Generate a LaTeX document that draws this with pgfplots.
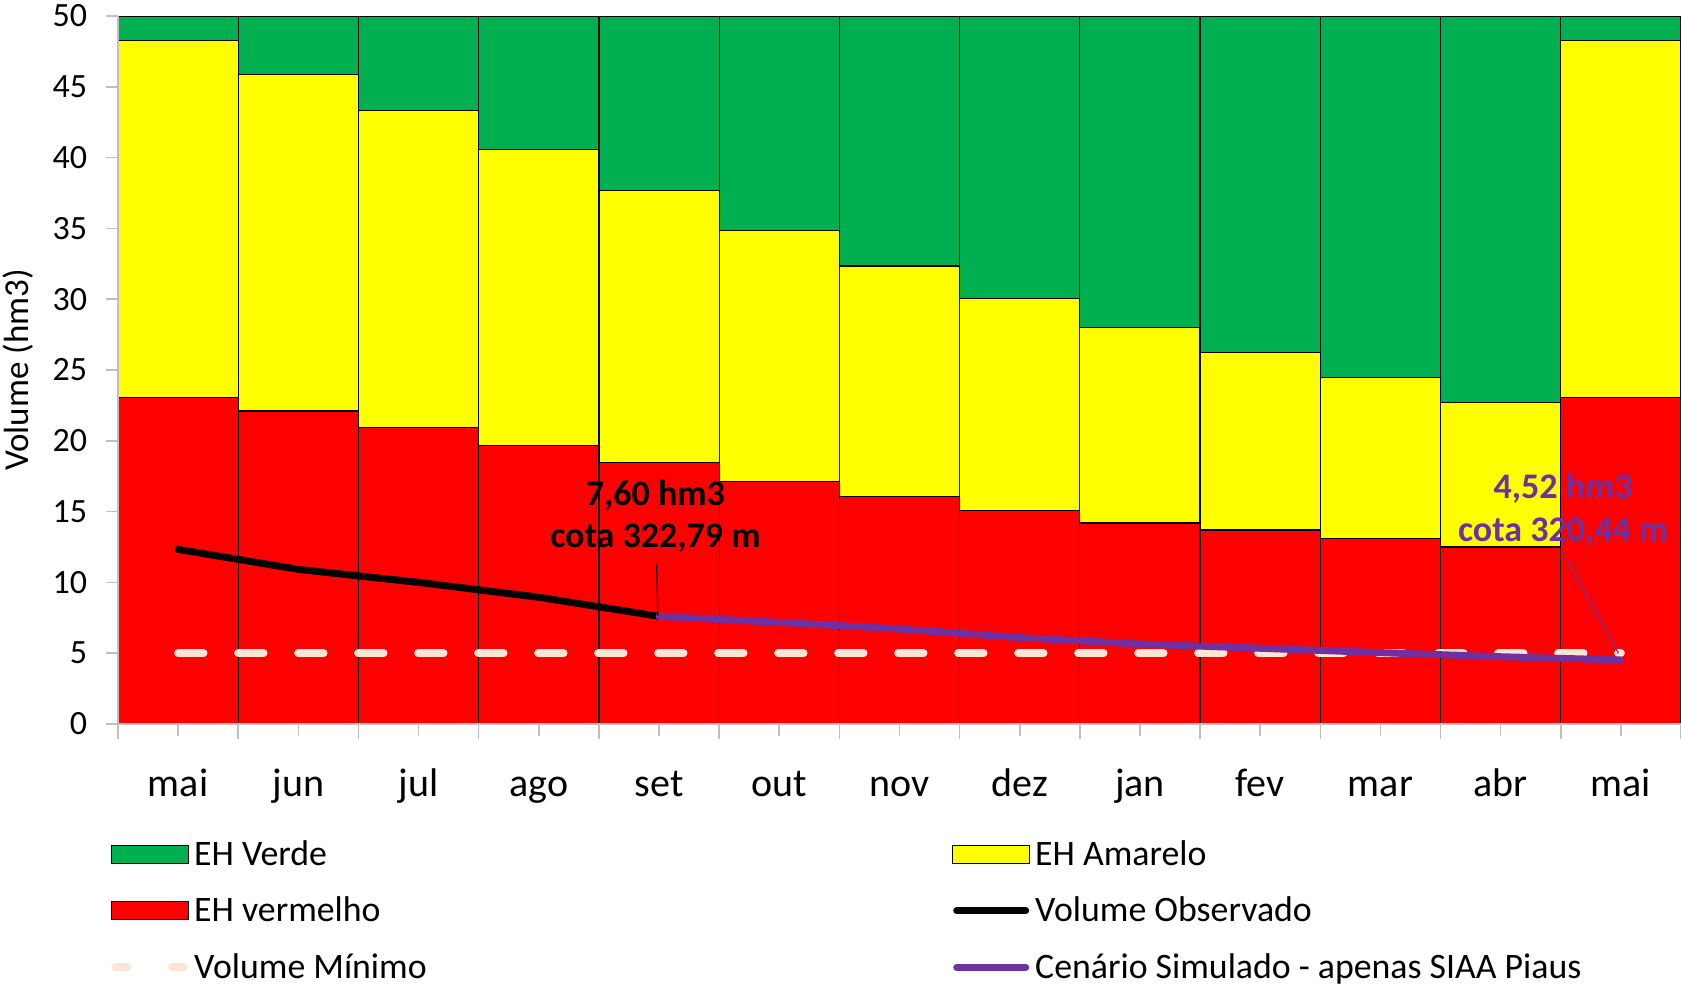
\documentclass[border=0pt]{standalone}
\usepackage{fontspec}
\setmainfont{Carlito}
\usepackage{pgfplots}
\usepackage{pgfplotstable}
\pgfplotsset{compat=1.18}

\definecolor{ehverde}{HTML}{00B050}
\definecolor{ehamarelo}{HTML}{FFFF00}
\definecolor{ehvermelho}{HTML}{FF0000}
\definecolor{cenario}{HTML}{7030A0}
\definecolor{minimo}{HTML}{FBE5D6}
\definecolor{eixo}{HTML}{BFBFBF}

% upper limit of each band (hm3), one row per month
\pgfplotstableread{
x vermelho amarelo verde
0  23.05 48.25 50
1  22.10 45.85 50
2  20.95 43.35 50
3  19.65 40.55 50
4  18.45 37.65 50
5  17.10 34.85 50
6  16.05 32.35 50
7  15.05 30.05 50
8  14.20 28.00 50
9  13.70 26.25 50
10 13.10 24.45 50
11 12.50 22.70 50
12 23.05 48.25 50
}\faixas

\pgfplotsset{
  faixa/.style={ybar, bar width=1, bar shift=0pt, draw=black, line width=0.6bp, forget plot},
  caixa/.style={legend image code/.code={%
    \draw[##1, line width=0.6bp] (0bp,-4.5bp) rectangle (38.5bp,4.5bp);
    \path (39.5bp,0bp);}},
  traco/.style={legend image code/.code={%
    \draw[##1] (2bp,0bp) -- (36.5bp,0bp);
    \path (0bp,0bp) (39.5bp,0bp);}},
}

\begin{document}
\begin{tikzpicture}
\begin{axis}[
  at={(0,0)}, anchor=south west,
  width=781.5bp, height=354bp, scale only axis,
  xmin=-0.5, xmax=12.5, ymin=0, ymax=50,
  axis on top,
  axis x line*=bottom, axis y line*=left,
  axis line style={draw=eixo, line width=0.8bp},
  tick style={draw=eixo, line width=0.8bp},
  tick align=outside,
  major tick length=5.8bp, minor tick length=7.5bp,
  xtick={0,...,12},
  minor xtick={-0.5,0.5,...,12.5},
  xticklabels={mai,jun,jul,ago,set,out,nov,dez,jan,fev,mar,abr,mai},
  ytick={0,5,...,50},
  /pgf/number format/assume math mode=true,
  yticklabel style={font=\fontsize{17bp}{20bp}\selectfont, inner sep=0pt, anchor=east, xshift=-9.5bp},
  xticklabel style={font=\fontsize{20bp}{24bp}\selectfont, inner sep=0pt, anchor=base, yshift=-30.3bp},
  every axis y label/.style={at={(axis description cs:-0.064,0.5)}, rotate=90, anchor=center,
    font=\fontsize{17.5bp}{21bp}\selectfont},
  ylabel={Volume (hm3)},
  legend columns=2,
  legend cell align=left,
  legend style={at={(-0.0069,-0.1630)}, anchor=north west, draw=none, fill=none,
    inner sep=0pt, outer sep=0pt, row sep=13.2bp, column sep=0pt,
    nodes={inner sep=0pt, text height=13bp, text depth=2bp, font=\fontsize{17.9bp}{21bp}\selectfont}},
]
\addplot[faixa, fill=ehverde] table[x=x, y=verde]{\faixas};
\addplot[faixa, fill=ehamarelo] table[x=x, y=amarelo]{\faixas};
\addplot[faixa, fill=ehvermelho] table[x=x, y=vermelho]{\faixas};

% volume minimo
\addplot[minimo, line width=4bp, line cap=round, dash pattern=on 12.7bp off 17.3bp, forget plot]
  coordinates {(0,5) (12,5)};
% volume observado
\addplot[black, line width=3.5bp, line cap=round, line join=round, forget plot]
  coordinates {(0,12.33) (1,10.92) (2,10.00) (3,8.95) (4,7.60)};
% cenario simulado
\addplot[cenario, line width=3.5bp, line cap=round, line join=round, forget plot]
  coordinates {(4,7.60) (5,7.18) (6,6.71) (7,6.10) (8,5.65) (9,5.35) (10,5.04) (11,4.75) (12,4.52)};

% rotulos
\draw[black, line width=0.6bp] (axis cs:3.98,11.28) -- (axis cs:3.99,7.65);
\node[font=\bfseries\fontsize{18bp}{21bp}\selectfont, inner sep=0pt] at (axis cs:3.97,16.17) {7,60 hm3};
\node[font=\bfseries\fontsize{18bp}{21bp}\selectfont, inner sep=0pt] at (axis cs:3.97,13.11) {cota 322,79 m};
\draw[cenario, line width=0.6bp] (axis cs:11.54,11.77) -- (axis cs:11.98,4.99);
\node[cenario, font=\bfseries\fontsize{18bp}{21bp}\selectfont, inner sep=0pt] at (axis cs:11.52,16.67) {4,52 hm3};
\node[cenario, font=\bfseries\fontsize{18bp}{21bp}\selectfont, inner sep=0pt] at (axis cs:11.52,13.58) {cota 320,44 m};

% legenda
\addlegendimage{caixa, fill=ehverde, draw=black}
\addlegendentry{\makebox[377.5bp][l]{EH Verde}}
\addlegendimage{caixa, fill=ehamarelo, draw=black}
\addlegendentry{EH Amarelo}
\addlegendimage{caixa, fill=ehvermelho, draw=black}
\addlegendentry{\makebox[377.5bp][l]{EH vermelho}}
\addlegendimage{traco, black, line width=3.5bp, line cap=round}
\addlegendentry{Volume Observado}
\addlegendimage{traco, minimo, line width=4bp, line cap=round, dash pattern=on 5.8bp off 22.7bp}
\addlegendentry{\makebox[377.5bp][l]{Volume Mínimo}}
\addlegendimage{traco, cenario, line width=3.5bp, line cap=round}
\addlegendentry{Cenário Simulado - apenas SIAA Piaus}
\end{axis}
\pgfresetboundingbox
\useasboundingbox (-59bp,-132bp) rectangle (781.5bp,362bp);
\end{tikzpicture}
\end{document}
